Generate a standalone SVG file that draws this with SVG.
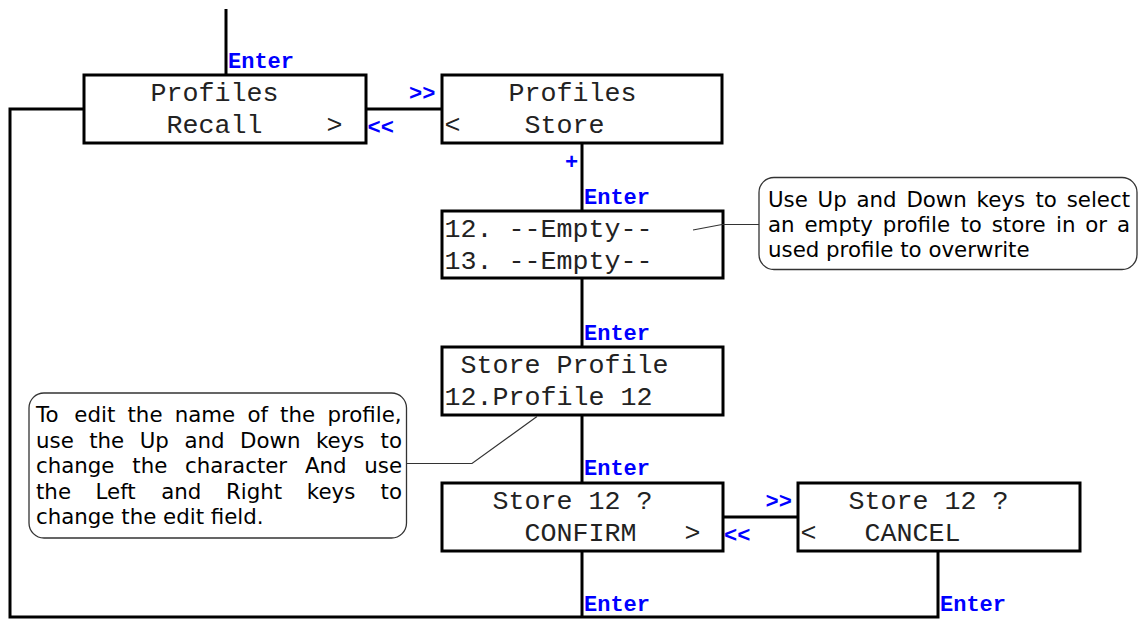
<svg xmlns="http://www.w3.org/2000/svg" width="1141" height="619" viewBox="0 0 1141 619">
<style>
.box{fill:#fff;stroke:#000;stroke-width:3}
.lcd{font-family:"Liberation Mono","Courier New",monospace;font-size:26.67px;fill:#222}
.key{font-family:"Liberation Mono","Courier New",monospace;font-size:22px;font-weight:bold;fill:#0000ff}
.conn{fill:none;stroke:#000;stroke-width:3}
.note{fill:#fff;stroke:#333;stroke-width:1.3}
.lead{fill:none;stroke:#333;stroke-width:1.2}
.nt{font-family:"DejaVu Sans",Verdana,sans-serif;font-size:21.33px;fill:#000}
</style>
<rect width="1141" height="619" fill="#fff"/>
<g id="connectors">
<line class="conn" x1="226" y1="9" x2="226" y2="75"/>
<line class="conn" x1="366" y1="109" x2="442" y2="109"/>
<polyline class="conn" points="84,109 10,109 10,617 938,617 938,551"/>
<line class="conn" x1="582" y1="143" x2="582" y2="211"/>
<line class="conn" x1="582" y1="278" x2="582" y2="347"/>
<line class="conn" x1="582" y1="415" x2="582" y2="483"/>
<line class="conn" x1="582" y1="551" x2="582" y2="617"/>
<line class="conn" x1="722" y1="517" x2="798" y2="517"/>
<text class="key" x="228" y="68">Enter</text>
<text class="key" x="409" y="100">&gt;&gt;</text>
<text class="key" x="367.5" y="134">&lt;&lt;</text>
<text class="key" x="565" y="169">+</text>
<text class="key" x="584" y="204">Enter</text>
<text class="key" x="584" y="340">Enter</text>
<text class="key" x="584" y="475">Enter</text>
<text class="key" x="765.5" y="508">&gt;&gt;</text>
<text class="key" x="724" y="542">&lt;&lt;</text>
<text class="key" x="584" y="611">Enter</text>
<text class="key" x="940" y="611">Enter</text>
</g>
<g id="profiles-recall">
<rect class="box" x="84" y="75" width="282" height="68"/>
<text class="lcd" x="86.5" y="101" xml:space="preserve">    Profiles</text>
<text class="lcd" x="86.5" y="133" xml:space="preserve">     Recall    &gt;</text>
</g>
<g id="profiles-store">
<rect class="box" x="442" y="75" width="280" height="68"/>
<text class="lcd" x="444.5" y="101" xml:space="preserve">    Profiles</text>
<text class="lcd" x="444.5" y="133" xml:space="preserve">&lt;    Store</text>
</g>
<g id="select-slot">
<rect class="box" x="442" y="211" width="281" height="67"/>
<text class="lcd" x="444.5" y="237" xml:space="preserve">12. --Empty--</text>
<text class="lcd" x="444.5" y="269" xml:space="preserve">13. --Empty--</text>
</g>
<g id="store-profile">
<rect class="box" x="442" y="347" width="281" height="68"/>
<text class="lcd" x="444.5" y="373" xml:space="preserve"> Store Profile</text>
<text class="lcd" x="444.5" y="405" xml:space="preserve">12.Profile 12</text>
</g>
<g id="confirm">
<rect class="box" x="442" y="483" width="281" height="68"/>
<text class="lcd" x="444.5" y="509" xml:space="preserve">   Store 12 ?</text>
<text class="lcd" x="444.5" y="541" xml:space="preserve">     CONFIRM   &gt;</text>
</g>
<g id="cancel">
<rect class="box" x="798" y="483" width="282" height="68"/>
<text class="lcd" x="800.5" y="509" xml:space="preserve">   Store 12 ?</text>
<text class="lcd" x="800.5" y="541" xml:space="preserve">&lt;   CANCEL</text>
</g>
<g id="note-select">
<polyline class="lead" points="693,230 722,224.5 759,224.5"/>
<rect class="note" x="759" y="177.5" width="378" height="92" rx="15"/>
<text class="nt" y="207"><tspan x="768">Use</tspan><tspan x="817.6">Up</tspan><tspan x="856.5">and</tspan><tspan x="906.4">Down</tspan><tspan x="976.6">keys</tspan><tspan x="1035.5">to</tspan><tspan x="1066.7">select</tspan></text>
<text class="nt" y="232"><tspan x="768">an</tspan><tspan x="804.5">empty</tspan><tspan x="882.7">profile</tspan><tspan x="960.4">to</tspan><tspan x="991.7">store</tspan><tspan x="1056">in</tspan><tspan x="1085.3">or</tspan><tspan x="1116.9">a</tspan></text>
<text class="nt" x="768" y="257">used profile to overwrite</text>
</g>
<g id="note-edit">
<polyline class="lead" points="406.5,463.5 472,463.5 537,416.5"/>
<rect class="note" x="29" y="393" width="377.5" height="145" rx="15"/>
<text class="nt" y="422"><tspan x="36">To</tspan><tspan x="74.3">edit</tspan><tspan x="127.5">the</tspan><tspan x="174.7">name</tspan><tspan x="247.4">of</tspan><tspan x="280.1">the</tspan><tspan x="327.4">profile,</tspan></text>
<text class="nt" y="447.5"><tspan x="36">use</tspan><tspan x="89.2">the</tspan><tspan x="139.7">Up</tspan><tspan x="184.4">and</tspan><tspan x="240">Down</tspan><tspan x="315.9">keys</tspan><tspan x="380.6">to</tspan></text>
<text class="nt" y="473"><tspan x="36">change</tspan><tspan x="132.3">the</tspan><tspan x="185">character</tspan><tspan x="304.9">And</tspan><tspan x="364.3">use</tspan></text>
<text class="nt" y="498.5"><tspan x="36">the</tspan><tspan x="95.6">Left</tspan><tspan x="161.2">and</tspan><tspan x="225.9">Right</tspan><tspan x="306.8">keys</tspan><tspan x="380.6">to</tspan></text>
<text class="nt" x="36" y="524">change the edit field.</text>
</g>
</svg>
